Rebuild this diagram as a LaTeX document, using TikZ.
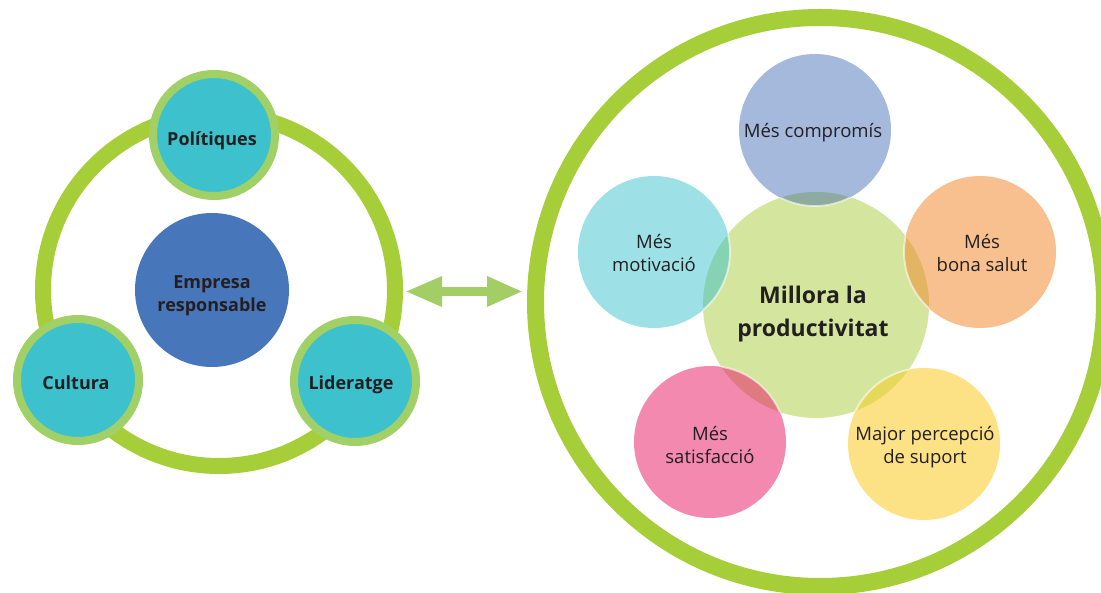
\documentclass[tikz,border=0pt]{standalone}
\usepackage{fontspec}
\setmainfont{Open Sans}
\usetikzlibrary{arrows.meta}

\definecolor{ringgreen}{HTML}{A6CE39}
\definecolor{rimgreen}{HTML}{A1D066}
\definecolor{pillarcyan}{HTML}{3DC1CD}
\definecolor{corebl}{HTML}{4876BA}
\definecolor{ink}{HTML}{231F20}
\definecolor{arrowgreen}{HTML}{A3CE65}
\definecolor{midgreen}{HTML}{D4E69E}
\definecolor{cBlue}{HTML}{A5B9DD}
\definecolor{cCyan}{HTML}{9DE0E6}
\definecolor{cOrange}{HTML}{F9C08F}
\definecolor{cPink}{HTML}{F389AF}
\definecolor{cYellow}{HTML}{FDE285}
\definecolor{oBlue}{HTML}{8FAA9F}
\definecolor{oCyan}{HTML}{86D3B4}
\definecolor{oOrange}{HTML}{E3B462}
\definecolor{oPink}{HTML}{DF7A80}
\definecolor{oYellow}{HTML}{E5D85B}

\tikzset{
  bigring/.style={circle, draw=ringgreen, inner sep=0pt},
  pillar/.style={circle, fill=pillarcyan, draw=rimgreen, line width=8pt,
                 minimum size=122pt, inner sep=0pt},
  petal/.style={circle, minimum size=152pt, inner sep=0pt},
  boldlbl/.style={font=\fontsize{18}{23}\selectfont\bfseries, text=ink,
                  align=center, inner sep=0pt},
  lightlbl/.style={font=\fontsize{18.5}{23}\selectfont, text=ink,
                   align=center, inner sep=0pt},
}

\begin{document}
\begin{tikzpicture}[x=1pt, y=-1pt]
\useasboundingbox (0,0) rectangle (1101,593);

% ---- left: responsible company cycle ----
\node[bigring, line width=16pt, minimum size=352pt] (cycle) at (219,290) {};
\node[pillar] (pol) at (214,135) {};
\node[pillar] (cul) at (78,380) {};
\node[pillar] (lid) at (355,381) {};
\node[circle, fill=corebl, minimum size=154pt, inner sep=0pt] (emp) at (212,290) {};

% labels are placed by the baseline of their last line
\node[boldlbl, anchor=base] (polt) at (212,146) {Polítiques};
\node[boldlbl, anchor=base] (cult) at (76,390) {Cultura};
\node[boldlbl, anchor=base] (lidt) at (351,390) {Lideratge};
\node[boldlbl, anchor=base] (empt) at (212,312) {Empresa\\responsable};

% ---- two-way link ----
\coordinate (aL) at (405,291.5);
\coordinate (aR) at (523,291.5);
\draw[arrowgreen, line width=9pt,
      {Triangle[length=37pt,width=28pt]}-{Triangle[length=36pt,width=28pt]}]
  (aL) -- (aR);

% ---- right: productivity ----
\node[bigring, line width=17pt, minimum size=569pt] (outer) at (820,302) {};
\node[circle, fill=midgreen, minimum size=226pt, inner sep=0pt] (mid) at (816,305) {};

\node[petal, fill=cBlue]   (comp) at (815,130) {};
\node[petal, fill=cCyan]   (moti) at (654,252) {};
\node[petal, fill=cOrange] (salu) at (980,252) {};
\node[petal, fill=cPink]   (sati) at (710,442) {};
\node[petal, fill=cYellow] (supo) at (924,444) {};

% overlaps with the central circle
\begin{scope}
  \clip (mid.center) circle[radius=113pt];
  \fill[oBlue]   (comp.center) circle[radius=76pt];
  \fill[oCyan]   (moti.center) circle[radius=76pt];
  \fill[oOrange] (salu.center) circle[radius=76pt];
  \fill[oPink]   (sati.center) circle[radius=76pt];
  \fill[oYellow] (supo.center) circle[radius=76pt];
  \foreach \p in {comp,moti,salu,sati,supo}
    \draw[white, draw opacity=.6, line width=1.8pt] (\p.center) circle[radius=76pt];
\end{scope}

\node[lightlbl, anchor=base] (compt) at (813,138) {Més compromís};
\node[lightlbl, anchor=base] (motit) at (654,272) {Més\\motivació};
\node[lightlbl, anchor=base] (salut) at (982,272) {Més\\bona salut};
\node[lightlbl, anchor=base] (satit) at (710,464) {Més\\satisfacció};
\node[lightlbl, anchor=base] (supot) at (925,464) {Major percepció\\de suport};
\node[font=\fontsize{23}{33}\selectfont\bfseries, text=ink, align=center,
      inner sep=0pt, anchor=base] (midt) at (813,337) {Millora la\\productivitat};
\end{tikzpicture}
\end{document}
